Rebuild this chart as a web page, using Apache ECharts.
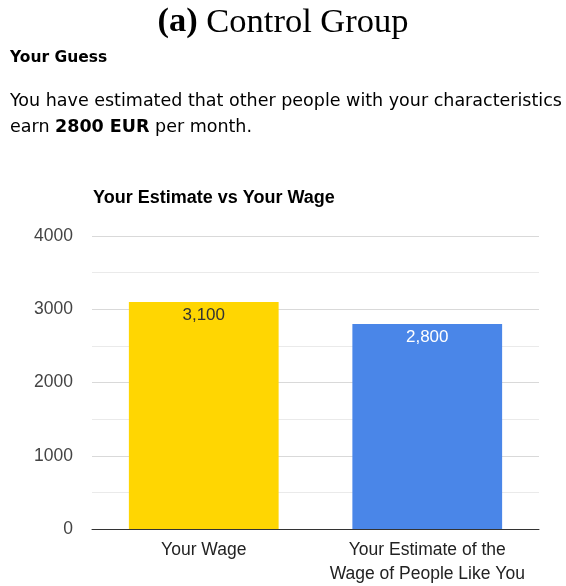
<!DOCTYPE html>
<html>
<head>
<meta charset="utf-8">
<script src="https://cdn.jsdelivr.net/npm/echarts@6/dist/echarts.min.js"></script>
<style>
  html, body { margin: 0; padding: 0; background: #fff; }
  #chart { width: 566px; height: 586px; }
</style>
</head>
<body>
<div id="chart"></div>
<script>
var categories = ['Your Wage', 'Your Estimate of the\nWage of People Like You'];
var values = [3100, 2800];
var yTicks = [0, 1000, 2000, 3000, 4000];

var barColors = ['#ffd602', '#4a86e8'];
var labelColors = ['#333333', '#ffffff'];

function withCommas(v) {
    return String(v).replace(/\B(?=(\d{3})+(?!\d))/g, ',');
}

var myChart = echarts.init(document.getElementById('chart'));

var option = {
    backgroundColor: '#fff',
    animation: false,
    title: [{
        text: '{b|(a)} Control Group',
        left: 'center',
        top: 0,
        textStyle: {
            fontFamily: 'Liberation Serif',
            fontSize: 34.5,
            fontWeight: 'normal',
            color: '#000',
            rich: {
                b: { fontFamily: 'Liberation Serif', fontSize: 34.5, fontWeight: 'bold', color: '#000' }
            }
        }
    }, {
        text: 'Your Guess',
        left: 5,
        top: 45,
        textStyle: { fontFamily: 'DejaVu Sans', fontSize: 15.5, fontWeight: 'bold', color: '#000' }
    }, {
        text: 'You have estimated that other people with your characteristics\nearn {b|2800 EUR} per month.',
        left: 5,
        top: 83,
        textStyle: {
            fontFamily: 'DejaVu Sans',
            fontSize: 17.5,
            fontWeight: 'normal',
            color: '#000',
            lineHeight: 26,
            rich: {
                b: { fontFamily: 'DejaVu Sans', fontSize: 17.5, fontWeight: 'bold', color: '#000', lineHeight: 26 }
            }
        }
    }, {
        text: 'Your Estimate vs Your Wage',
        left: 88,
        top: 184,
        textStyle: { fontFamily: 'Liberation Sans', fontSize: 18, fontWeight: 'bold', color: '#000' }
    }],
    grid: {
        left: 92,
        right: 27,
        top: 236,
        bottom: 55
    },
    xAxis: {
        type: 'category',
        data: categories,
        axisTick: { show: false },
        axisLine: { lineStyle: { color: '#333', width: 1 } },
        axisLabel: {
            color: '#222',
            fontFamily: 'Liberation Sans',
            fontSize: 17.5,
            lineHeight: 24,
            margin: 9,
            interval: 0
        }
    },
    yAxis: {
        type: 'value',
        min: yTicks[0],
        max: yTicks[yTicks.length - 1],
        interval: 1000,
        axisLine: { show: false },
        axisTick: { show: false },
        axisLabel: {
            color: '#444',
            fontFamily: 'Liberation Sans',
            fontSize: 17.5,
            margin: 19,
            formatter: function (v) { return String(v); }
        },
        splitLine: { lineStyle: { color: '#d9d9d9', width: 1 } },
        minorTick: { show: false, splitNumber: 2 },
        minorSplitLine: { show: true, lineStyle: { color: '#eaeaea', width: 1 } }
    },
    series: [{
        type: 'bar',
        data: values.map(function (v, i) {
            return { value: v, label: { color: labelColors[i] } };
        }),
        barWidth: '67%',
        itemStyle: {
            color: function (p) { return barColors[p.dataIndex]; }
        },
        label: {
            show: true,
            position: 'insideTop',
            distance: 5,
            fontFamily: 'Liberation Sans',
            fontSize: 17,
            formatter: function (p) { return withCommas(p.value); }
        }
    }]
};

myChart.setOption(option);
</script>
</body>
</html>
